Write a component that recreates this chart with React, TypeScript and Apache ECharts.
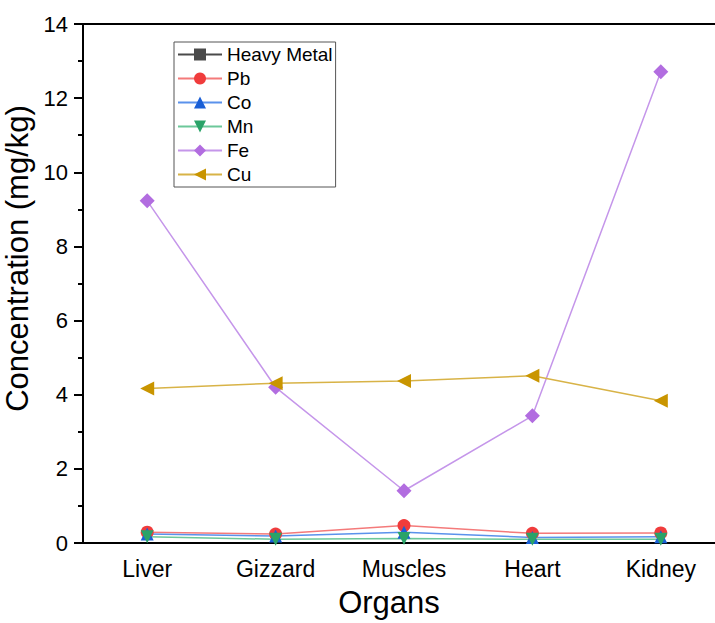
import React, { useEffect, useRef } from "react";
import * as echarts from "echarts";

const organs = ["Liver", "Gizzard", "Muscles", "Heart", "Kidney"];
const pb = [0.29, 0.24, 0.47, 0.26, 0.27];
const co = [0.24, 0.19, 0.29, 0.15, 0.17];
const mn = [0.17, 0.1, 0.12, 0.1, 0.1];
const fe = [9.23, 4.2, 1.41, 3.43, 12.71];
const cu = [4.17, 4.31, 4.37, 4.51, 3.84];
const yTicks = [0, 14, 2];

const FONT = "Liberation Sans, Arial, sans-serif";

export default function App() {
  const ref = useRef<HTMLDivElement>(null);
  useEffect(() => {
    const chart = echarts.init(ref.current!, null, { renderer: "svg" });
    const mk = (name: string, data: number[], color: string, lineColor: string, symbol: string, size: number) => ({
      name,
      type: "line",
      data,
      symbol,
      symbolSize: size,
      itemStyle: { color },
      lineStyle: { color: lineColor, width: 1.5 },
      emphasis: { disabled: true },
      xAxisIndex: 0,
      yAxisIndex: 0,
    });
    chart.setOption({
      animation: false,
      backgroundColor: "#ffffff",
      grid: { left: 83, right: -10, top: 24, bottom: 80, containLabel: false, outerBoundsMode: "none" },
      legend: {
        left: 174,
        top: 42,
        orient: "vertical",
        itemWidth: 44,
        itemHeight: 15,
        itemGap: 5,
        padding: [3, 3, 3, 3],
        borderColor: "#555",
        borderWidth: 1,
        textStyle: { fontFamily: FONT, fontSize: 19, color: "#000" },
        data: ["Heavy Metal", "Pb", "Co", "Mn", "Fe", "Cu"],
      },
      xAxis: [
        {
          type: "category",
          data: organs,
          boundaryGap: true,
          position: "bottom",
          axisLine: { lineStyle: { color: "#000", width: 2 } },
          axisTick: { alignWithLabel: true, length: 9, lineStyle: { color: "#000", width: 2 } },
          axisLabel: { fontFamily: FONT, fontSize: 23, color: "#000", margin: 14 },
          name: "Organs",
          nameLocation: "middle",
          nameGap: 44,
          nameTextStyle: { fontFamily: FONT, fontSize: 31, color: "#000", lineHeight: 31, padding: [0, 30, 0, 0] },
        },
        {
          type: "category",
          data: organs,
          boundaryGap: true,
          position: "bottom",
          axisLine: { show: false },
          axisTick: { alignWithLabel: false, length: 5, lineStyle: { color: "#000", width: 2 } },
          axisLabel: { show: false },
        },
        {
          type: "category",
          data: organs,
          position: "top",
          axisLine: { lineStyle: { color: "#000", width: 2 } },
          axisTick: { show: false },
          axisLabel: { show: false },
        },
      ],
      yAxis: {
        type: "value",
        min: yTicks[0],
        max: yTicks[1],
        interval: yTicks[2],
        axisLine: { show: true, lineStyle: { color: "#000", width: 2 } },
        axisTick: { show: true, length: 9, lineStyle: { color: "#000", width: 2 } },
        minorTick: { show: true, splitNumber: 2, length: 5, lineStyle: { color: "#000", width: 2 } },
        splitLine: { show: false },
        axisLabel: { fontFamily: FONT, fontSize: 22, color: "#000", margin: 15 },
        name: "Concentration (mg/kg)",
        nameLocation: "middle",
        nameGap: 45,
        nameTextStyle: { fontFamily: FONT, fontSize: 31, color: "#000", padding: [0, 0, 0, 50] },
      },
      series: [
        mk("Heavy Metal", [], "#4a4a4a", "#4a4a4a", "rect", 11),
        mk("Pb", pb, "#f03c3c", "#f47a7a", "circle", 13),
        mk("Co", co, "#1a5fd6", "#5a92ec", "triangle", 13),
        mk("Mn", mn, "#2aa368", "#6cc89a", "path://M0,0L10,0L5,9Z", 13),
        mk("Fe", fe, "#b26de0", "#c596ea", "diamond", 15),
        mk("Cu", cu, "#c99500", "#d8b347", "path://M0,5L9,0L9,10Z", 14),
      ],
    });
    return () => chart.dispose();
  }, []);
  return <div ref={ref} style={{ width: 715, height: 623, position: "absolute", left: 0, top: 0 }} />;
}
